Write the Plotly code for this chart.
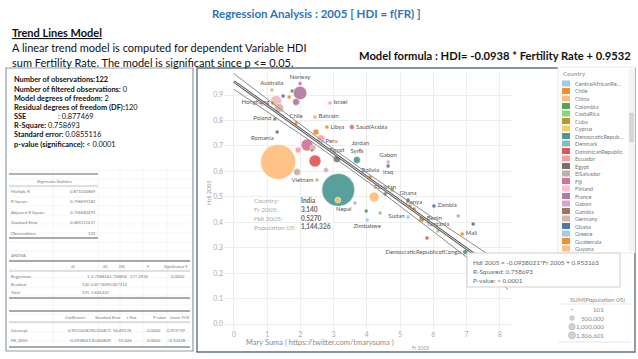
import numpy as np
import plotly.graph_objects as go

W, H = 638, 359
FONT = "Lato"

# ---------------- data ----------------
countries = ["China", "India", "UnitedStates", "Brazil", "Indonesia", "Japan", "Bangladesh", "Germany",
             "Philippines", "France", "Egypt", "Syria", "Thailand", "Turkey", "Paraguay", "Mexico", "Benin",
             "Yemen", "SaudiArabia", "Morocco", "DemocraticRepublicofCongo", "Singapore", "Poland", "Romania",
             "Vietnam", "Iraq", "Pakistan", "Sudan", "Niger", "Ethiopia", "Nepal", "Honduras", "Canada",
             "Netherlands", "Switzerland", "Australia", "HongKong", "Israel", "Chile", "Gabon", "Bolivia",
             "Ghana", "Kenya", "Zambia", "Tanzania", "Mali", "Zimbabwe", "Senegal", "Cameroon", "Haiti",
             "Norway", "Bahrain", "Libya", "Peru", "Jordan", "Madagascar", "Uganda"]
fertility = [1.33, 3.14, 1.99, 2.20, 2.44, 1.27, 4.22, 1.36,
             2.62, 1.87, 3.10, 3.70, 1.90, 1.93, 2.38, 2.47, 5.66,
             3.13, 3.55, 2.77, 6.96, 0.84, 1.23, 1.30,
             2.50, 4.64, 4.55, 5.24, 7.20, 5.81, 3.64, 2.35, 1.66,
             1.48, 1.75, 1.14, 1.17, 2.89, 1.87, 4.64, 4.10,
             5.24, 5.42, 6.02, 6.14, 6.87, 4.01, 6.75, 3.98, 4.40,
             1.99, 2.44, 2.80, 2.65, 3.80, 4.76, 5.30]
hdi = [0.637, 0.527, 0.908, 0.704, 0.641, 0.877, 0.499, 0.849,
       0.727, 0.873, 0.649, 0.645, 0.597, 0.684, 0.692, 0.755, 0.413,
       0.487, 0.774, 0.605, 0.283, 0.865, 0.806, 0.755,
       0.566, 0.621, 0.511, 0.421, 0.393, 0.338, 0.476, 0.684, 0.892,
       0.896, 0.916, 0.920, 0.869, 0.869, 0.790, 0.637, 0.578,
       0.487, 0.452, 0.464, 0.366, 0.354, 0.409, 0.425, 0.444, 0.436,
       0.945, 0.814, 0.774, 0.719, 0.684, 0.527, 0.464]
population = [1306601, 1144326, 194000, 153600, 153600, 129000, 106700, 86400,
              68300, 52300, 52300, 52300, 52300, 38400, 38400, 38400, 38400,
              38400, 26700, 26700, 26700, 26700, 17100, 17100,
              17100, 17100, 17100, 17100, 17100, 17100, 17100, 17100, 17100,
              9600, 9600, 9600, 9600, 9600, 9600, 4300, 9600,
              9600, 9600, 9600, 9600, 9600, 9600, 9600, 9600, 9600,
              4300, 4300, 4300, 4300, 4300, 9600, 9600]

model_intercept = 0.953163
model_slope = -0.0938021
r_squared = 0.758693
n_obs = 122
std_error = 0.0855116
fr_mean = 3.3      # estimated
fr_sxx = 440.0     # estimated
trend_fr_range = [0.0, 8.25]

x_ticks = [0, 1, 2, 3, 4, 5, 6, 7, 8]
y_ticks = [0.0, 0.1, 0.2, 0.3, 0.4, 0.5, 0.6, 0.7, 0.8, 0.9]

legend_countries = ["CentralAfricanRe...", "Chile", "China", "Colombia", "CostaRica", "Cuba", "Cyprus",
                    "DemocraticRepub...", "Denmark", "DominicanRepublic", "Ecuador", "Egypt", "ElSalvador",
                    "Fiji", "Finland", "France", "Gabon", "Gambia", "Germany", "Ghana", "Greece",
                    "Guatemala", "Guyana"]
size_legend_values = [101, 500000, 1000000, 1306601]

stats_labels = ["Number of observations:", "Number of filtered observations:", "Model degrees of freedom:",
                "Residual degrees of freedom (DF):", "SSE", "R-Square:", "Standard error:",
                "p-value (significance):"]
stats_values = ["122", " 0", " 2", "120", ": 0.877469", " 0.758693", " 0.0855116", " < 0.0001"]

reg_stats_labels = ["Multiple R", "R Square", "Adjusted R Square", "Standard Error", "Observations"]
reg_stats_values = ["0.871030869", "0.758693182", "0.756682493", "0.085511637", "122"]
anova_header = ["df", "SS", "MS", "F", "Significance F"]
anova_rows = [["Regression", "1", "2.758854", "2.758854", "377.2926", "0.0000"],
              ["Residual", "120", "0.877469", "0.007312", "", ""],
              ["Total", "121", "3.636323", "", "", ""]]
coef_header = ["Coefficients", "Standard Error", "t Stat", "P-value", "Lower 95%"]
coef_rows = [["Intercept", "0.953162819", "0.016871", "56.49578", "0.0000", "0.919759"],
             ["FR_2005", "-0.09380213", "0.004829", "-19.424", "0.0000", "-0.10338"]]

# ---------------- styles ----------------
T20 = ["#4E79A7", "#A0CBE8", "#F28E2B", "#FFBE7D", "#59A14F", "#8CD17D", "#B6992D", "#F1CE63",
       "#499894", "#86BCB6", "#E15759", "#FF9D9A", "#79706E", "#BAB0AC", "#D37295", "#FABFD2",
       "#B07AA1", "#D4A6C8", "#9D7660", "#D7B5A6"]
country_colors = {
    "China": "#FFBE7D", "India": "#499894", "UnitedStates": "#B07AA1", "Brazil": "#D37295",
    "Indonesia": "#E15759", "Japan": "#F0B6C6", "Bangladesh": "#FFBE7D", "Germany": "#D7B5A6",
    "Philippines": "#FF9D9A", "France": "#B07AA1", "Egypt": "#79706E", "Syria": "#499894",
    "Thailand": "#BAB0AC", "Turkey": "#FF9D9A", "Paraguay": "#D4A6C8", "Mexico": "#F28E2B",
    "Benin": "#B6992D", "Yemen": "#F1CE63", "SaudiArabia": "#D37295", "Morocco": "#D4A6C8",
    "DemocraticRepublicofCongo": "#499894", "Singapore": "#FABFD2", "Poland": "#59A14F",
    "Romania": "#79706E", "Vietnam": "#BAB0AC", "Iraq": "#79706E", "Pakistan": "#4E79A7",
    "Sudan": "#A0CBE8", "Niger": "#4E79A7", "Ethiopia": "#E15759", "Nepal": "#D4A6C8",
    "Honduras": "#B6992D", "Canada": "#F28E2B", "Netherlands": "#4E79A7", "Switzerland": "#59A14F",
    "Australia": "#D7B5A6", "HongKong": "#B6992D", "Israel": "#FF9D9A", "Chile": "#F28E2B",
    "Gabon": "#D4A6C8", "Bolivia": "#F28E2B", "Ghana": "#4E79A7", "Kenya": "#B6992D",
    "Zambia": "#4E79A7", "Tanzania": "#8CD17D", "Mali": "#F28E2B", "Zimbabwe": "#A0CBE8",
    "Senegal": "#BAB0AC", "Cameroon": "#59A14F", "Haiti": "#8CD17D", "Norway": "#D37295",
    "Bahrain": "#FF9D9A", "Libya": "#F28E2B", "Peru": "#A0CBE8", "Jordan": "#FF9D9A",
    "Madagascar": "#B6992D", "Uganda": "#F28E2B",
}
label_pos = {
    "Norway": "top center", "Australia": "top center", "HongKong": "middle left", "Israel": "middle right",
    "Poland": "middle left", "Chile": "top center", "Bahrain": "middle right", "Libya": "middle right",
    "SaudiArabia": "middle right", "Romania": "bottom left", "Peru": "middle right", "Jordan": "top center",
    "Egypt": "top center", "Syria": "top center", "Gabon": "top center", "Iraq": "bottom center",
    "Bolivia": "top center", "Vietnam": "middle left", "Pakistan": "top center", "Ghana": "top center",
    "Kenya": "top center", "Zambia": "middle right", "Sudan": "middle left", "Benin": "middle right",
    "Tanzania": "top center", "Mali": "middle right", "DemocraticRepublicofCongo": "middle left",
    "Nepal": "bottom left", "Zimbabwe": "bottom center",
}


def X(p):
    return p / W


def Y(p):
    return 1 - p / H


annotations = []
shapes = []


def text(x, y, s, size, color, anchor="left", family=FONT, angle=0):
    annotations.append(dict(x=X(x), y=Y(y), xref="paper", yref="paper", text=s, showarrow=False,
                            xanchor=anchor, yanchor="middle", textangle=angle, borderpad=0,
                            align=anchor if anchor != "center" else "center",
                            font=dict(size=size, color=color, family=family)))


def rect(x0, y0, x1, y1, color, width=1, fill="rgba(0,0,0,0)", layer="above"):
    shapes.append(dict(type="rect", xref="paper", yref="paper", x0=X(x0), x1=X(x1), y0=Y(y1), y1=Y(y0),
                       line=dict(color=color, width=width), fillcolor=fill, layer=layer))


def hline(x0, x1, y, color, width=1):
    shapes.append(dict(type="line", xref="paper", yref="paper", x0=X(x0), x1=X(x1), y0=Y(y), y1=Y(y),
                       line=dict(color=color, width=width), layer="above"))


def vline(x, y0, y1, color, width=1):
    shapes.append(dict(type="line", xref="paper", yref="paper", x0=X(x), x1=X(x), y0=Y(y0), y1=Y(y1),
                       line=dict(color=color, width=width), layer="above"))


def circle(cx, cy, d, fill, line):
    shapes.append(dict(type="circle", xref="paper", yref="paper", x0=X(cx - d / 2), x1=X(cx + d / 2),
                       y0=Y(cy + d / 2), y1=Y(cy - d / 2), fillcolor=fill, line=dict(color=line, width=0.8),
                       layer="above"))


# ---------------- figure ----------------
fig = go.Figure()

order = sorted(range(len(countries)), key=lambda i: -population[i])
max_d = 35.0
sizeref = 2.0 * max(population) / (max_d ** 2)

fig.add_trace(go.Scatter(
    x=[fertility[i] for i in order], y=[hdi[i] for i in order],
    mode="markers+text",
    text=[countries[i] if countries[i] in label_pos else "" for i in order],
    textposition=[label_pos.get(countries[i], "middle right") for i in order],
    textfont=dict(size=6, color="#555555", family=FONT),
    marker=dict(size=[population[i] for i in order], sizemode="area", sizeref=sizeref, sizemin=2,
                color=[country_colors[countries[i]] for i in order], opacity=0.92,
                line=dict(color="white", width=0.5)),
    hoverinfo="skip", showlegend=False))

# trend line and confidence bands from the model statistics
fr_line = np.linspace(trend_fr_range[0], trend_fr_range[1], 60)
center = model_intercept + model_slope * fr_line
half = 1.98 * std_error * np.sqrt(1.0 / n_obs + (fr_line - fr_mean) ** 2 / fr_sxx)
for band in (center + half, center - half):
    fig.add_trace(go.Scatter(x=fr_line, y=band, mode="lines", line=dict(color="#8a8a8a", width=1),
                             hoverinfo="skip", showlegend=False))
fig.add_trace(go.Scatter(x=fr_line, y=center, mode="lines", line=dict(color="#555555", width=2.6),
                         hoverinfo="skip", showlegend=False))
fig.add_trace(go.Scatter(x=fr_line, y=center, mode="lines", line=dict(color="#ffffff", width=0.8),
                         hoverinfo="skip", showlegend=False))

# axis geometry (pixels)
x_lo, x_hi = -0.3, 8.4
y_lo, y_hi = -0.02, 0.99
plot_left, plot_right = 224, 513
plot_bottom = 324 - y_lo * 254.4
plot_top = 324 - y_hi * 254.4

fig.update_layout(
    width=W, height=H, margin=dict(l=0, r=0, t=0, b=0),
    paper_bgcolor="white", plot_bgcolor="white",
    xaxis=dict(domain=[X(plot_left), X(plot_right)], range=[x_lo, x_hi], tickvals=x_ticks,
               showgrid=True, gridcolor="#eeeeee", gridwidth=1, zeroline=False, showline=False,
               ticks="", tickfont=dict(size=7, color="#aaaaaa", family=FONT)),
    yaxis=dict(domain=[Y(plot_bottom), Y(plot_top)], range=[y_lo, y_hi], tickvals=y_ticks,
               tickformat=".1f", showgrid=True, gridcolor="#eeeeee", gridwidth=1, zeroline=False,
               showline=False, ticks="", tickfont=dict(size=7, color="#aaaaaa", family=FONT)),
    font=dict(family=FONT),
)

# ---------------- slide texts ----------------
text(316, 14, "<b>Regression Analysis : 2005 [ HDI = f(FR) ]</b>", 11.5, "#2E75B6", anchor="center")
text(11, 33, "<b><u>Trend Lines Model</u></b>", 11, "#111111")
text(11, 47, "A linear trend model is computed for dependent Variable HDI", 11, "#111111")
text(11, 62, "sum Fertility Rate. The model is significant since p <= 0.05.", 11, "#111111")
text(632, 55, "<b>Model formula : HDI= -0.0938 * Fertility Rate + 0.9532</b>", 11.2, "#111111", anchor="right")

# left panel frame
rect(6, 68, 193, 351, "#8c9bab", 1.2)
for i, (lab, val) in enumerate(zip(stats_labels, stats_values)):
    yy = 80 + i * 9.15
    if lab == "SSE":
        text(13, yy, "<b>SSE</b>", 7.4, "#111111")
        text(57, yy, val, 7.4, "#111111")
    elif i == 0:
        text(13, yy, "<b>" + lab + val + "</b>", 7.4, "#111111")
    else:
        text(13, yy, "<b>" + lab + "</b>" + val, 7.4, "#111111")

# Excel table (blurry in the original)
tc = "#777777"
fs = 4.2
for gx in (53, 98, 120, 143, 167):
    vline(gx, 170, 348, "#ececec", 0.6)
for gy in range(170, 349, 9):
    hline(8, 191, gy, "#f0f0f0", 0.6)
hline(9, 98, 174, "#666666", 1)
text(54, 181, "<i>Regression Statistics</i>", fs, tc, anchor="center")
hline(9, 98, 186, "#999999", 0.6)
for i, (lab, val) in enumerate(zip(reg_stats_labels, reg_stats_values)):
    yy = 191 + i * 10.5
    text(10, yy, lab, fs, tc)
    text(97, yy, val, fs, tc, anchor="right")
hline(9, 98, 238, "#555555", 1.2)
text(10, 255, "ANOVA", fs, tc)
hline(9, 190, 261, "#555555", 1.2)
for hx, h in zip((73, 105, 122, 148, 176), anova_header):
    text(hx, 266, "<i>" + h + "</i>", fs, tc, anchor="center")
hline(9, 190, 271, "#999999", 0.6)
anova_right = (91, 111, 129, 150, 186)
for r, row in enumerate(anova_rows):
    yy = 276 + r * 8.3
    text(10, yy, row[0], fs, tc)
    for cx, v in zip(anova_right, row[1:]):
        if v:
            text(cx, yy, v, fs, tc, anchor="right")
hline(9, 190, 298, "#555555", 1.2)
hline(9, 190, 311, "#555555", 1.2)
for hx, h in zip((75, 108, 132, 160, 180), coef_header):
    text(hx, 317, "<i>" + h + "</i>", fs, tc, anchor="center")
hline(9, 190, 322, "#999999", 0.6)
coef_right = (95, 113, 133, 162, 187)
for r, row in enumerate(coef_rows):
    yy = 330 + r * 10.5
    text(10, yy, row[0], fs, tc)
    for cx, v in zip(coef_right, row[1:]):
        text(cx, yy, v, fs, tc, anchor="right")
hline(9, 190, 347, "#555555", 1.2)

# chart panel frame
rect(197, 68, 635, 352, "#5f7183", 1.4)

# axis titles & watermark
text(208, 193, "Hdi 2005", 6, "#999999", anchor="center", angle=-90)
text(420, 347.5, "Fr 2005", 5, "#999999", anchor="center")
text(320, 342, "Mary Suma ( https://twitter.com/tmarysuma )", 7.5, "#8a8a8a", anchor="center")

# India tooltip-like card
i_ind = countries.index("India")
card_labels = ["Country:", "Fr 2005:", "Hdi 2005:", "Population 05:"]
card_values = [countries[i_ind], "%.3f" % fertility[i_ind], "%.4f" % hdi[i_ind],
               "{:,}".format(population[i_ind])]
for k, (cl, cv) in enumerate(zip(card_labels, card_values)):
    yy = 200 + k * 9
    text(253, yy, cl, 6.5, "#aaaaaa")
    text(300, yy, "<b>" + cv + "</b>", 6.5, "#666666")

# country legend
rect(558, 67, 635, 253, "#e2e2e2", 0.8, fill="white")
text(562, 73, "Country", 6.2, "#888888")
for k, name in enumerate(legend_countries):
    yy = 83.5 + k * 7.5
    col = T20[(k + 1) % 20]
    shapes.append(dict(type="rect", xref="paper", yref="paper", x0=X(562), x1=X(570), y0=Y(yy + 3),
                       y1=Y(yy - 3), fillcolor=col, line=dict(width=0), layer="above"))
    text(574, yy, name, 5.6, "#777777")
rect(629, 69, 634, 251, "#f0f0f0", 0.5, fill="#f4f4f4")
rect(629.5, 113, 633.5, 142, "#c8c8c8", 0.5, fill="#d6d6d6")

# regression tooltip box
rect(467, 253, 620, 287, "#cfcfcf", 1, fill="white")
text(472, 262, "Hdi 2005 = -0.0938021*Fr 2005 + 0.953163", 6.4, "#666666")
text(472, 271, "R-Squared: %.6f" % r_squared, 6.4, "#666666")
text(472, 280, "P-value: < 0.0001", 6.4, "#666666")

# size legend
text(597, 299, "SUM(Population 05)", 6.2, "#888888", anchor="center")
hline(560, 631, 304, "#e0e0e0", 0.8)
for k, v in enumerate(size_legend_values):
    yy = 309.5 + k * 8.6
    d = max(1.2, 7.0 * np.sqrt(v / max(size_legend_values)))
    circle(572, yy, d, "#d3d3d3", "#b8b8b8")
    text(605, yy, "{:,}".format(v), 6.2, "#888888", anchor="right")
hline(558, 630, 342, "#e0e0e0", 0.8)

fig.update_layout(annotations=annotations, shapes=shapes)
fig.write_html("out.html", config={"displayModeBar": False, "staticPlot": True},
               post_script="document.body.style.margin='0';document.body.style.overflow='hidden';")
